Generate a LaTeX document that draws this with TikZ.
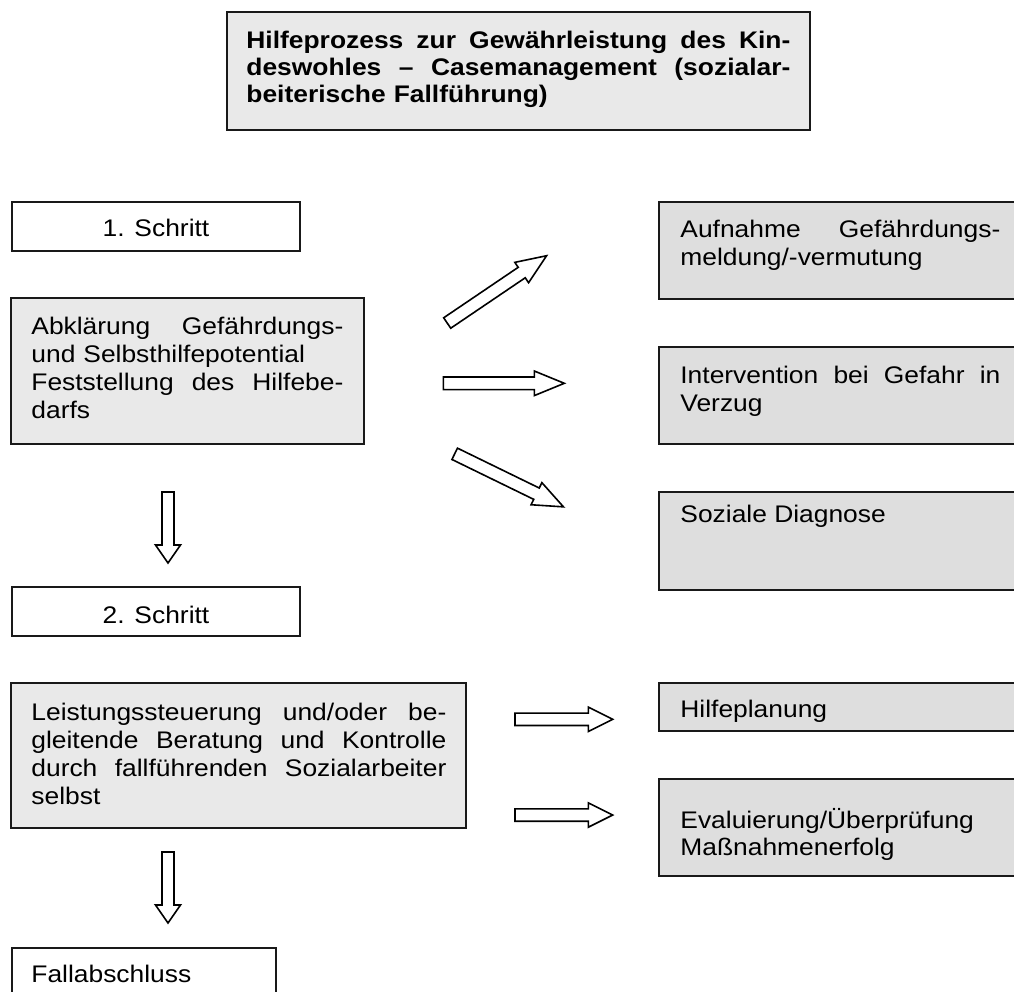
\documentclass[tikz,border=0pt]{standalone}
\usepackage{fontspec}
\setmainfont{Liberation Sans}[FakeStretch=1.1]
\usetikzlibrary{fit}
\definecolor{panelgray}{RGB}{233,233,233}
\definecolor{notegray}{RGB}{222,222,222}
% one line of justified text, its word spaces spread to the full text width
\newcommand\jline[1]{\leavevmode\hbox to\hsize{\spaceskip=\fontdimen2\font plus 1fil\relax #1}}
% hollow block arrow: tail point, angle, length, head length, half shaft width, half head width
\newcommand\blockarrow[6]{%
  \begin{scope}[shift={(#1)}, rotate=#2]
    \draw[arrowline] (0,-#5) -- ({#3-#4},-#5) -- ({#3-#4},-#6) -- (#3,0)
      -- ({#3-#4},#6) -- ({#3-#4},#5) -- (0,#5) -- cycle;
  \end{scope}}
\begin{document}
\begin{tikzpicture}[x=0.5pt,y=-0.5pt,
  panel/.style={draw=black!90, line width=1pt, inner sep=0pt},
  txt/.style={inner sep=0pt, anchor=base west, align=left, font=\fontsize{12}{14}\selectfont},
  arrowline/.style={draw=black, line width=0.8pt, fill=white, line join=miter}]
\clip (0,0) rectangle (1014,992);
\fill[white] (0,0) rectangle (1014,992);

% heading
\node[panel, fill=panelgray, fit={(227,12)(810,130)}] (title) {};
\node[txt, text width=272pt, font=\bfseries\fontsize{12}{13.5}\selectfont] (titleT) at (246,48)
  {\jline{Hilfeprozess zur Gewährleistung des Kin-}\\
   \jline{deswohles – Casemanagement (sozialar-}\\
   beiterische Fallführung)};

% left column
\node[panel, fill=white, fit={(12,202)(300,251)}] (s1) {};
\node[txt, anchor=base] (s1T) at (156,236) {1. Schritt};

\node[panel, fill=panelgray, fit={(11,298)(364,444)}] (abkl) {};
\node[txt, text width=156pt, font=\fontsize{12}{14.15}\selectfont] (abklT) at (31,334)
  {\jline{Abklärung Gefährdungs-}\\
   und Selbsthilfepotential\\
   \jline{Feststellung des Hilfebe-}\\
   darfs};

\node[panel, fill=white, fit={(12,587)(300,636)}] (s2) {};
\node[txt, anchor=base] (s2T) at (156,623) {2. Schritt};

\node[panel, fill=panelgray, fit={(11,683)(466,828)}] (leist) {};
\node[txt, text width=207.5pt] (leistT) at (31,720)
  {\jline{Leistungssteuerung und/oder be-}\\
   \jline{gleitende Beratung und Kontrolle}\\
   \jline{durch fallführenden Sozialarbeiter}\\
   selbst};

\node[panel, fill=white, fit={(12,948)(276,1010)}] (ende) {};
\node[txt] (endeT) at (31,982) {Fallabschluss};

% right column
\node[panel, fill=notegray, fit={(659,202)(1030,299)}] (aufn) {};
\node[txt, text width=160pt] (aufnT) at (680,237)
  {\jline{Aufnahme Gefährdungs-}\\
   meldung/-vermutung};

\node[panel, fill=notegray, fit={(659,347)(1030,444)}] (interv) {};
\node[txt, text width=160pt] (intervT) at (680,383)
  {\jline{Intervention bei Gefahr in}\\
   Verzug};

\node[panel, fill=notegray, fit={(659,492)(1030,590)}] (diag) {};
\node[txt] (diagT) at (680,522) {Soziale Diagnose};

\node[panel, fill=notegray, fit={(659,683)(1030,731)}] (plan) {};
\begin{scope}
  \clip (659,683) rectangle (1014,722);
  \node[txt] (planT) at (680,717) {Hilfeplanung};
\end{scope}

\node[panel, fill=notegray, fit={(659,779)(1030,876)}] (eval) {};
\node[txt, text width=160pt, font=\fontsize{12}{13.75}\selectfont] (evalT) at (680,828)
  {Evaluierung/Überprüfung\\
   Maßnahmenerfolg};

% block arrows
\coordinate (tailUp)    at (447.2,323);
\coordinate (tailRight) at (443.3,383.3);
\coordinate (tailDown)  at (454.7,453.8);
\coordinate (tailS1)    at (168,492);
\coordinate (tailS2)    at (168,852);
\coordinate (tailPlan)  at (515,719.3);
\coordinate (tailEval)  at (515,815);

\blockarrow{tailUp}{34.1}{120}{30}{6.3}{12.3}
\blockarrow{tailRight}{0}{121}{30}{6.3}{12.3}
\blockarrow{tailDown}{-26}{121}{30}{6.3}{12.3}
\blockarrow{tailS1}{-90}{71}{18}{6}{12.5}
\blockarrow{tailS2}{-90}{71}{18}{6}{12.5}
\blockarrow{tailPlan}{0}{97.7}{24.4}{6.2}{12.2}
\blockarrow{tailEval}{0}{97.7}{24.4}{6.2}{12.2}
\end{tikzpicture}
\end{document}
